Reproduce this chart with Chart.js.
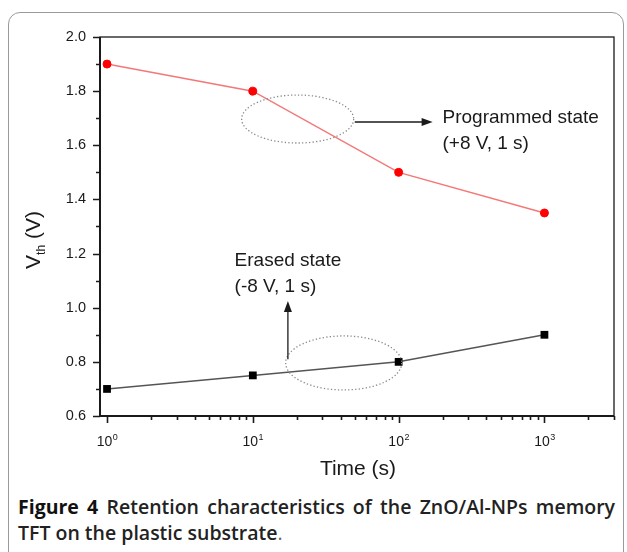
<!DOCTYPE html>
<html>
<head>
<meta charset="utf-8">
<script src="https://cdn.jsdelivr.net/npm/chart.js@4.4.1/dist/chart.umd.min.js"></script>
<style>
  html, body { margin: 0; padding: 0; background: #fff; overflow: hidden; }
  body { width: 627px; height: 552px; position: relative; }
  #frame {
    position: absolute; left: 8px; top: 12px; width: 616px; height: 620px;
    border: 1px solid #9a9a9a; border-radius: 12px; box-sizing: border-box;
  }
  #chart { position: absolute; left: 0; top: 0; }
  #caption {
    position: absolute; left: 18px; top: 494px; width: 597px;
    font-family: "Open Sans", sans-serif; font-size: 19.5px; line-height: 26px;
    color: #222; font-weight: 600;
  }
  #caption .l1 { text-align: justify; text-align-last: justify; white-space: nowrap; }
  #caption b { font-weight: 700; color: #111; }
  #caption .dot { font-weight: 400; color: #666; }
</style>
</head>
<body>
<div id="frame"></div>
<canvas id="chart" width="627" height="480"></canvas>
<div id="caption">
  <div class="l1"><b>Figure 4</b> Retention characteristics of the ZnO/Al-NPs memory</div>
  <div>TFT on the plastic substrate<span class="dot">.</span></div>
</div>
<script>
// time points (s) and threshold voltages (V)
const times = [1, 10, 100, 1000];
const programmed = [1.90, 1.80, 1.50, 1.35];
const erased = [0.70, 0.75, 0.80, 0.90];

// axis ticks
const yMajor = [0.6, 0.8, 1.0, 1.2, 1.4, 1.6, 1.8, 2.0];
const yMinor = [0.7, 0.9, 1.1, 1.3, 1.5, 1.7, 1.9];
const xExponents = [0, 1, 2, 3];

const FONT = '"Liberation Sans", Arial, sans-serif';
const INK = '#1a1a1a';

function toPoints(ys) {
  return times.map((t, i) => ({ x: t, y: ys[i] }));
}

// axis frame, tick marks, x labels with superscripts, y title, annotations
const decorations = {
  id: 'decorations',
  beforeDatasetsDraw(chart) {
    const { ctx, chartArea: a, scales: { x, y } } = chart;
    ctx.save();
    ctx.strokeStyle = INK;
    ctx.lineWidth = 1.3;
    ctx.strokeRect(a.left, a.top, a.right - a.left, a.bottom - a.top);
    ctx.lineWidth = 2;
    ctx.beginPath();
    ctx.moveTo(a.left, a.top);
    ctx.lineTo(a.left, a.bottom);
    ctx.lineTo(a.right, a.bottom);
    ctx.stroke();

    ctx.lineWidth = 1.6;
    ctx.beginPath();
    yMajor.forEach(v => {
      const py = Math.round(y.getPixelForValue(v)) + 0.5;
      ctx.moveTo(a.left, py); ctx.lineTo(a.left - 7, py);
    });
    yMinor.forEach(v => {
      const py = Math.round(y.getPixelForValue(v)) + 0.5;
      ctx.moveTo(a.left, py); ctx.lineTo(a.left - 4, py);
    });
    xExponents.forEach(e => {
      const px = Math.round(x.getPixelForValue(Math.pow(10, e))) + 0.5;
      ctx.moveTo(px, a.bottom); ctx.lineTo(px, a.bottom + 7);
      for (let m = 2; m <= 9; m++) {
        const v = m * Math.pow(10, e);
        if (v > x.max) break;
        const q = Math.round(x.getPixelForValue(v)) + 0.5;
        ctx.moveTo(q, a.bottom); ctx.lineTo(q, a.bottom + 4);
      }
    });
    ctx.stroke();

    // x tick labels 10^n
    ctx.fillStyle = INK;
    ctx.textBaseline = 'alphabetic';
    ctx.textAlign = 'left';
    xExponents.forEach(e => {
      const px = x.getPixelForValue(Math.pow(10, e));
      ctx.font = '14px ' + FONT;
      const wb = ctx.measureText('10').width;
      ctx.font = '9px ' + FONT;
      const we = ctx.measureText(String(e)).width;
      const x0 = px - (wb + we) / 2;
      ctx.font = '14px ' + FONT;
      ctx.fillText('10', x0, a.bottom + 30);
      ctx.font = '9px ' + FONT;
      ctx.fillText(String(e), x0 + wb + 0.5, a.bottom + 24);
    });

    // x title
    ctx.font = '21px ' + FONT;
    ctx.textAlign = 'center';
    ctx.fillText('Time (s)', (a.left + a.right) / 2 + 1, a.bottom + 59);

    // y title V_th (V), rotated
    ctx.translate(40, 240);
    ctx.rotate(-Math.PI / 2);
    ctx.textAlign = 'left';
    ctx.font = '21px ' + FONT;
    const wV = ctx.measureText('V').width;
    const wRest = ctx.measureText(' (V)').width;
    ctx.font = '12px ' + FONT;
    const wSub = ctx.measureText('th').width;
    let sx = -(wV + wSub + wRest) / 2;
    ctx.font = '21px ' + FONT;
    ctx.fillText('V', sx, 0);
    ctx.font = '12px ' + FONT;
    ctx.fillText('th', sx + wV, 5);
    ctx.font = '21px ' + FONT;
    ctx.fillText(' (V)', sx + wV + wSub, 0);
    ctx.restore();
  },
  afterDatasetsDraw(chart) {
    const { ctx, scales: { x, y } } = chart;
    ctx.save();

    const ellipse = (cx, cy, rx, ry) => {
      ctx.save();
      ctx.strokeStyle = '#8a8a8a';
      ctx.lineWidth = 1.3;
      ctx.setLineDash([1.3, 2.2]);
      ctx.beginPath();
      ctx.ellipse(x.getPixelForValue(cx), y.getPixelForValue(cy), rx, ry, 0, 0, Math.PI * 2);
      ctx.stroke();
      ctx.restore();
    };
    const arrow = (x1, y1, x2, y2) => {
      const p1 = [x.getPixelForValue(x1), y.getPixelForValue(y1)];
      const p2 = [x.getPixelForValue(x2), y.getPixelForValue(y2)];
      const ang = Math.atan2(p2[1] - p1[1], p2[0] - p1[0]);
      ctx.strokeStyle = INK; ctx.fillStyle = INK; ctx.lineWidth = 1.3;
      ctx.beginPath();
      ctx.moveTo(p1[0], p1[1]);
      ctx.lineTo(p2[0] - 8 * Math.cos(ang), p2[1] - 8 * Math.sin(ang));
      ctx.stroke();
      ctx.beginPath();
      ctx.moveTo(p2[0], p2[1]);
      ctx.lineTo(p2[0] - 11 * Math.cos(ang) + 4 * Math.sin(ang), p2[1] - 11 * Math.sin(ang) - 4 * Math.cos(ang));
      ctx.lineTo(p2[0] - 11 * Math.cos(ang) - 4 * Math.sin(ang), p2[1] - 11 * Math.sin(ang) + 4 * Math.cos(ang));
      ctx.closePath();
      ctx.fill();
    };
    const label = (tx, ty, lines) => {
      ctx.fillStyle = INK;
      ctx.font = '19px ' + FONT;
      ctx.textAlign = 'left';
      ctx.textBaseline = 'alphabetic';
      const px = x.getPixelForValue(tx), py = y.getPixelForValue(ty);
      lines.forEach((s, i) => ctx.fillText(s, px, py + i * 26));
    };

    // programmed state
    ellipse(20.3, 1.697, 56, 24);
    arrow(50, 1.686, 171, 1.686);
    label(200, 1.682, ['Programmed state', '(+8 V, 1 s)']);

    // erased state
    ellipse(42, 0.796, 58, 27);
    arrow(17.4, 0.81, 17.4, 1.025);
    label(7.5, 1.154, ['Erased state', '(-8 V, 1 s)']);

    ctx.restore();
  }
};

new Chart(document.getElementById('chart'), {
  type: 'line',
  data: {
    datasets: [{
      label: 'Programmed state',
      data: toPoints(programmed),
      borderColor: '#f47878',
      borderWidth: 1.5,
      pointStyle: 'circle',
      pointRadius: 4,
      pointBorderWidth: 1,
      pointBackgroundColor: '#ff0000',
      pointBorderColor: '#ff0000'
    }, {
      label: 'Erased state',
      data: toPoints(erased),
      borderColor: '#555555',
      borderWidth: 1.5,
      pointStyle: 'rect',
      pointRadius: 5.5,
      pointBorderWidth: 0,
      pointBackgroundColor: '#000000',
      pointBorderColor: '#000000'
    }]
  },
  options: {
    responsive: false,
    animation: false,
    devicePixelRatio: 1,
    layout: { padding: { top: 37, right: 13, left: 0, bottom: 0 } },
    plugins: { legend: { display: false }, tooltip: { enabled: false } },
    scales: {
      x: {
        type: 'logarithmic',
        min: 0.895,
        max: 3000,
        grid: { display: false, drawTicks: false },
        border: { display: false },
        ticks: { display: false },
        afterFit: s => { s.height = 64; }
      },
      y: {
        min: 0.6,
        max: 2.0,
        grid: { display: false, drawTicks: false },
        border: { display: false },
        ticks: {
          stepSize: 0.2,
          padding: 14,
          color: INK,
          font: { family: FONT, size: 14.5 },
          callback: v => v.toFixed(1)
        },
        afterFit: s => { s.width = 100; }
      }
    }
  },
  plugins: [decorations]
});
</script>
</body>
</html>
